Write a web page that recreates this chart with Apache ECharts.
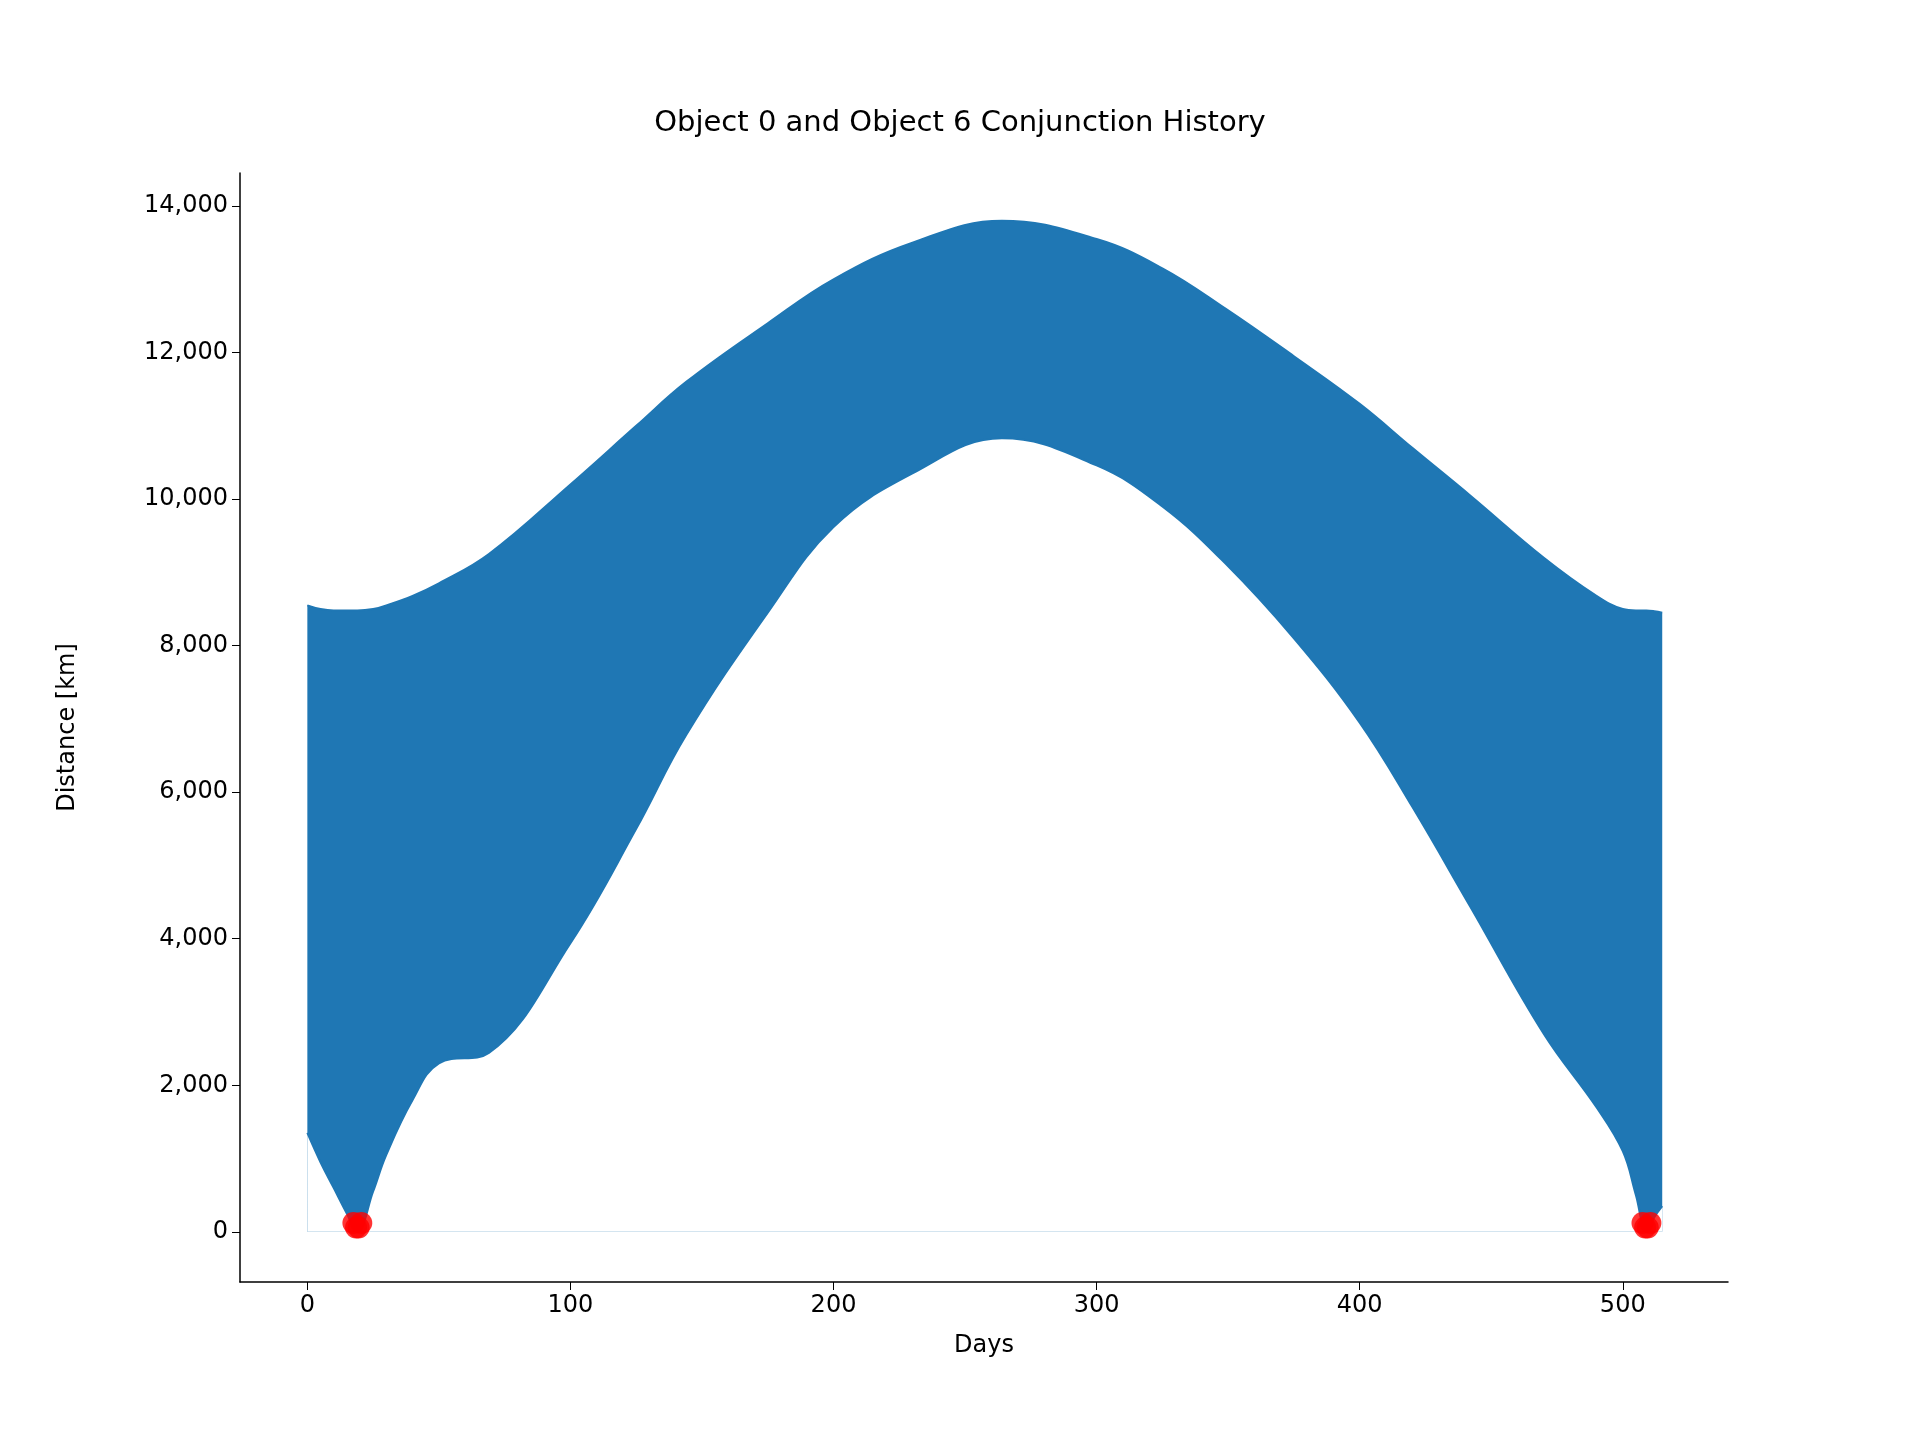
<!DOCTYPE html>
<html><head><meta charset="utf-8">
<script src="https://cdn.jsdelivr.net/npm/echarts@6/dist/echarts.min.js"></script>
<style>html,body{margin:0;background:#fff}#c{width:1920px;height:1440px}</style>
</head><body><div id="c"></div>
<script>
const days =  [0,   5,   10,  15,  19,  25,  30,  40,  50,  69,  100, 125, 144, 175, 200, 230, 264, 300, 325, 349, 375, 400, 420, 442, 470, 490, 500, 505, 509, 512, 515];
const upper = [8550,8500,8480,8480,8480,8500,8550,8680,8850,9250,10200,11000,11600,12400,13000,13500,13800,13550,13150,12600,11950,11300,10700,10050,9200,8680,8500,8480,8480,8470,8450];
const lower = [1350,950, 600, 250, 0,   550, 1050,1800,2300,2440,3940,5500,6780,8450,9620,10350,10830,10460,9900,9120,8100,6950,5800,4440,2700,1700,1100,500, 0,   200, 350];
const conjX = [17.5,18.5,19.5,20.5];
const conjY = [120,60,60,120];
const ulData = days.map((d,i)=>[d,upper[i]]);
const llData = days.map((d,i)=>[d,lower[i]]);
const ptsA = conjX.map((x,i)=>[x,conjY[i]]);
const ptsB = conjX.map((x,i)=>[x+490,conjY[i]]);
const f = 'DejaVu Sans';
const chart = echarts.init(document.getElementById('c'));
chart.setOption({
  animation:false,
  title:{text:'Object 0 and Object 6 Conjunction History',left:'center',top:104,textStyle:{fontFamily:f,fontSize:29,fontWeight:'normal',color:'#000'}},
  grid:{left:240,right:192,top:173,bottom:158},
  xAxis:{type:'value',min:-25.6,max:540,interval:100,name:'Days',nameLocation:'middle',nameGap:52,
    nameTextStyle:{fontFamily:f,fontSize:24,color:'#000'},
    axisLine:{onZero:false,lineStyle:{color:'#000',width:1.5}},axisTick:{show:true,length:8,lineStyle:{color:'#000'}},
    axisLabel:{fontFamily:f,fontSize:24,color:'#000',margin:12,customValues:[0,100,200,300,400,500]},
    axisTick:{customValues:[0,100,200,300,400,500],length:8,lineStyle:{color:'#000'}},
    splitLine:{show:false}},
  yAxis:{type:'value',min:-685,max:14451,name:'Distance [km]',nameLocation:'middle',nameGap:160,
    nameTextStyle:{fontFamily:f,fontSize:24,color:'#000'},
    axisLine:{onZero:false,lineStyle:{color:'#000',width:1.5}},
    axisLabel:{fontFamily:f,fontSize:24,color:'#000',margin:12,customValues:[0,2000,4000,6000,8000,10000,12000,14000]},
    axisTick:{show:true,customValues:[0,2000,4000,6000,8000,10000,12000,14000],length:8,lineStyle:{color:'#000'}},
    splitLine:{show:false}},
  series:[
    {type:'line',data:ulData,smooth:0.4,symbol:'none',lineStyle:{color:'#1f77b4',width:2},areaStyle:{color:'#1f77b4',opacity:1,origin:0},z:1},
    {type:'line',data:llData,smooth:0.4,symbol:'none',lineStyle:{color:'#1f77b4',width:2},areaStyle:{color:'#fff',opacity:1,origin:0},z:2},
    {type:'scatter',data:ptsA.concat(ptsB),symbolSize:22,itemStyle:{color:'#ff0000'},z:3}
  ]
});
</script></body></html>
